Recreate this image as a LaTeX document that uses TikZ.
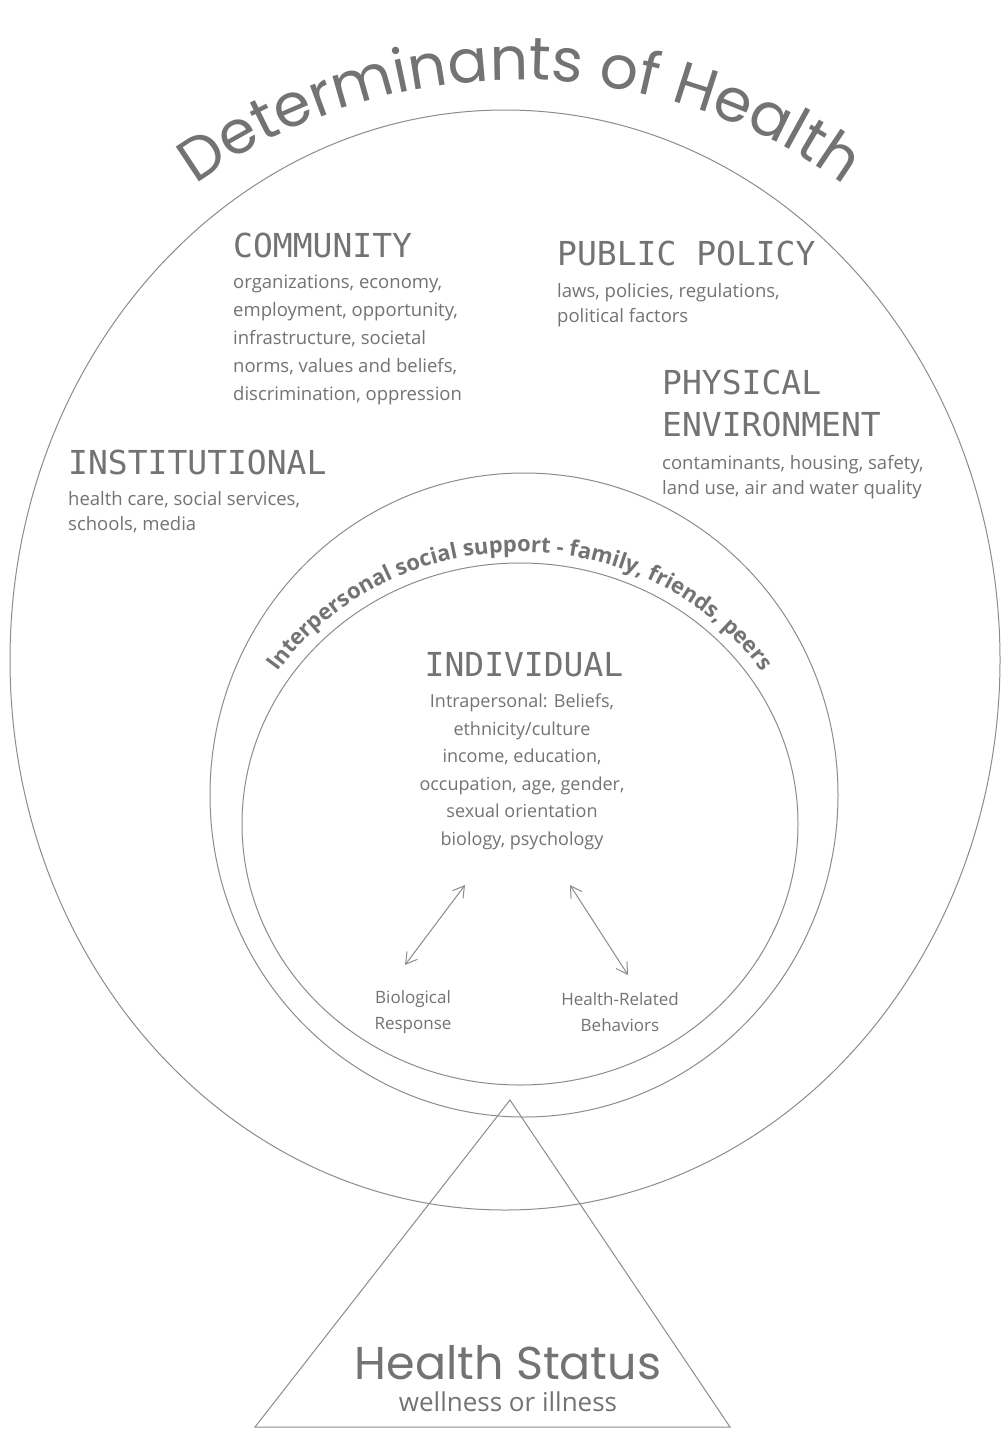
\documentclass[tikz,border=0pt]{standalone}
\usepackage{fontspec}
\setmainfont{Open Sans}
\newfontfamily\titlefont{Poppins}
\newfontfamily\headfont{DejaVu Sans Mono}
\usetikzlibrary{decorations.text,arrows.meta}
\definecolor{ink}{gray}{0.45}
\definecolor{lineink}{gray}{0.55}
\begin{document}
\begin{tikzpicture}[x=1pt,y=1pt,
  ring/.style={draw=lineink, line width=1pt},
  head/.style={font=\headfont\fontsize{33}{42}\selectfont, text=ink, inner sep=0pt},
  bodytext/.style={font=\fontsize{18.5}{28}\selectfont, text=ink, inner sep=0pt, align=left},
  dblarrow/.style={draw=lineink, line width=1pt, {Straight Barb[length=11pt,width=13pt]}-{Straight Barb[length=11pt,width=13pt]}}
]
\useasboundingbox[fill=white] (0,0) rectangle (1008,-1435);

% circles
\draw[ring] (505,-660) ellipse [x radius=495, y radius=550];
\draw[ring] (524,-795) ellipse [x radius=314, y radius=322];
\draw[ring] (520,-824) ellipse [x radius=278, y radius=261];

% triangle
\coordinate (apex) at (510,-1100);
\coordinate (baseL) at (255,-1427);
\coordinate (baseR) at (730,-1427);
\draw[ring] (apex) -- (baseL) -- (baseR) -- cycle;

% title
\path[decorate, decoration={text along path, text align=center, text color=ink,
  text={|\titlefont\fontsize{60}{66}\selectfont|Determinants of Health}}]
  (520,-635) ++(145:555) arc[start angle=145, end angle=35, radius=555];

% interpersonal ring text
\path[decorate, decoration={text along path, text align=center, text color=ink,
  text={|\bfseries\fontsize{22}{26}\selectfont|Interpersonal social support - family, friends, peers}}]
  (520,-824) ++(170:292 and 272) arc[start angle=170, end angle=10, x radius=292, y radius=272];

% community
\node[head, anchor=base west] (community) at (233,-257) {COMMUNITY};
\node[bodytext, anchor=north west] (communitytext) at (233,-275)
  {organizations, economy,\\employment, opportunity,\\infrastructure, societal\\norms, values and beliefs,\\discrimination, oppression};

% public policy
\node[head, anchor=base west] (policy) at (557,-265) {PUBLIC POLICY};
\node[bodytext, anchor=north west, font=\fontsize{18.5}{25}\selectfont] (policytext) at (557,-283)
  {laws, policies, regulations,\\political factors};

% physical environment
\node[head, anchor=base west] (physical) at (662,-394) {PHYSICAL};
\node[head, anchor=base west] (environment) at (662,-436) {ENVIRONMENT};
\node[bodytext, anchor=north west, font=\fontsize{18.5}{25}\selectfont] (physicaltext) at (662,-455)
  {contaminants, housing, safety,\\land use, air and water quality};

% institutional
\node[head, anchor=base west] (institutional) at (68,-474) {INSTITUTIONAL};
\node[bodytext, anchor=north west, font=\fontsize{18.5}{25}\selectfont] (institutionaltext) at (68,-491)
  {health care, social services,\\schools, media};

% individual
\node[head, anchor=base] (individual) at (524,-676) {INDIVIDUAL};
\node[bodytext, align=center, anchor=north, font=\fontsize{18}{27.5}\selectfont] (individualtext) at (522,-694)
  {Intrapersonal: Beliefs,\\ethnicity/culture\\income, education,\\occupation, age, gender,\\sexual orientation\\biology, psychology};

% outcomes
\node[bodytext, align=center, font=\fontsize{17}{26}\selectfont] (bio) at (413,-1012) {Biological\\Response};
\node[bodytext, align=center, font=\fontsize{17}{26}\selectfont] (behav) at (620,-1012) {Health-Related\\Behaviors};

\coordinate (bioTop) at (405,-965);
\coordinate (indivL) at (465,-885);
\coordinate (behavTop) at (628,-975);
\coordinate (indivR) at (570,-885);
\draw[dblarrow] (bioTop) -- (indivL);
\draw[dblarrow] (indivR) -- (behavTop);

% health status
\node[font=\titlefont\fontsize{46}{50}\selectfont, text=ink, inner sep=0pt] (status) at (508,-1363) {Health Status};
\node[font=\fontsize{26}{30}\selectfont, text=ink, inner sep=0pt] (wellness) at (508,-1402) {wellness or illness};
\end{tikzpicture}
\end{document}
